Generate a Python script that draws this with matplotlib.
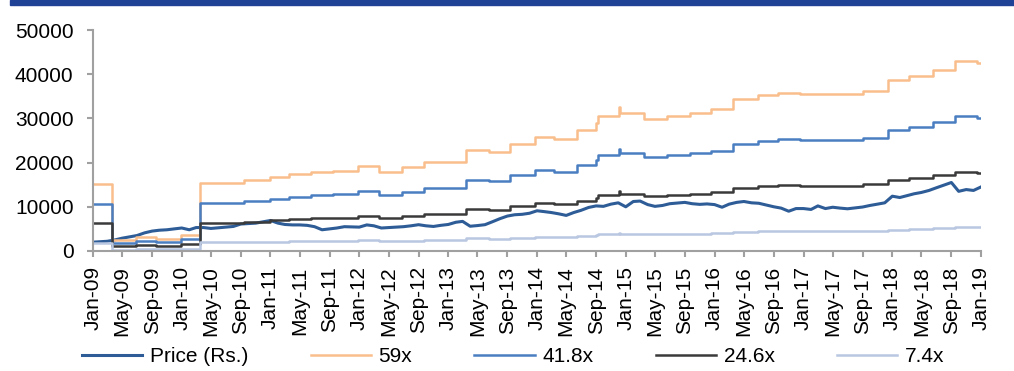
import numpy as np
import pandas as pd
import matplotlib
matplotlib.use("Agg")
import matplotlib.pyplot as plt
import matplotlib.dates as mdates
from matplotlib.patches import Rectangle

plt.rcParams['font.family'] = ['Liberation Sans', 'DejaVu Sans']

# month-end share price (Rs.), Jan-09 .. Jan-19
price = [2000, 2100, 2200, 2500, 2900, 3200, 3500, 4100, 4500, 4700, 4800, 5000,
         5200, 4800, 5300, 5300, 5100, 5250, 5400, 5550, 6100, 6200, 6300, 6600,
         6900, 6300, 6000, 5900, 5900, 5800, 5500, 4800, 5000, 5200, 5500, 5450,
         5400, 5900, 5700, 5200, 5300, 5400, 5500, 5700, 5950, 5700, 5550, 5800,
         6000, 6500, 6700, 5600, 5750, 5950, 6600, 7300, 7900, 8200, 8300, 8540,
         9100, 8900, 8700, 8400, 8050, 8700, 9200, 9850, 10200, 10100, 10600, 10900,
         10000, 11200, 11300, 10500, 10100, 10300, 10700, 10850, 11000, 10700, 10550, 10650,
         10500, 9900, 10600, 11000, 11200, 10900, 10800, 10400, 10000, 9700, 9000, 9600,
         9600, 9400, 10200, 9600, 9900, 9700, 9550, 9750, 9950, 10300, 10600, 10900,
         12400, 12100, 12500, 12950, 13250, 13700, 14300, 14900, 15500, 13500, 13900, 13700,
         14500]
price_dates = pd.date_range("2009-01-01", periods=len(price), freq="MS")

# trailing EPS (Rs.) and the dates it changed
eps_dates = ["2009-01-01", "2009-03-22", "2009-06-25", "2009-09-16", "2009-12-28",
             "2010-03-18", "2010-09-12", "2010-12-28", "2011-03-19", "2011-06-18",
             "2011-09-13", "2011-12-25", "2012-03-24", "2012-06-24", "2012-09-22",
             "2013-03-16", "2013-06-19", "2013-09-12", "2013-12-22", "2014-03-13",
             "2014-06-16", "2014-09-01", "2014-09-07", "2014-12-05", "2014-12-10",
             "2015-03-18", "2015-06-18", "2015-09-21", "2015-12-19", "2016-03-15",
             "2016-06-27", "2016-09-18", "2016-12-16", "2017-09-03", "2017-12-13",
             "2018-03-12", "2018-06-16", "2018-09-15", "2018-12-15"]
eps = [257.0, 43.0, 53.0, 46.9, 62.2,
       261.9, 271.2, 283.1, 294.9, 301.2,
       307.6, 324.1, 303.4, 320.3, 342.0,
       386.6, 381.4, 411.9, 437.3, 428.6,
       464.2, 491.5, 517.6, 552.0, 528.0,
       507.3, 517.6, 528.0, 543.2, 581.4,
       597.8, 605.4, 600.3, 613.6, 655.1,
       670.3, 695.9, 730.3, 721.2]

multiples = [59, 41.8, 24.6, 7.4]
band_labels = ["59x", "41.8x", "24.6x", "7.4x"]
band_colors = ["#F9BE8C", "#4A7EC1", "#3A3A3A", "#B9C7E1"]

end = pd.Timestamp("2019-01-01")
step_x = pd.to_datetime(eps_dates + ["2019-01-01"])
step_eps = np.array(eps + [eps[-1]])

fig = plt.figure(figsize=(10.14, 3.71), dpi=100)
ax = fig.add_axes([0.0917, 0.3235, 0.8758, 0.5955])

ax.plot(price_dates, price, color="#2E5C97", lw=2.2, label="Price (Rs.)")
for m, lab, col in zip(multiples, band_labels, band_colors):
    ax.plot(step_x, step_eps * m, color=col, lw=1.8, drawstyle="steps-post", label=lab)

ax.set_xlim(pd.Timestamp("2009-01-01"), end)
ax.set_ylim(0, 50000)
ax.set_yticks(range(0, 50001, 10000))
ax.xaxis.set_major_locator(mdates.MonthLocator(bymonth=[1, 5, 9]))
ax.xaxis.set_major_formatter(mdates.DateFormatter("%b-%y"))
ax.tick_params(axis="x", rotation=90, labelsize=15, length=4, color="#A0A0A0", width=1.5, pad=7)
ax.tick_params(axis="y", labelsize=15, length=4, color="#A0A0A0", width=1.5, pad=10)

for s in ["top", "right"]:
    ax.spines[s].set_visible(False)
for s in ["left", "bottom"]:
    ax.spines[s].set_color("#A0A0A0")
    ax.spines[s].set_linewidth(1.5)

fig.legend(loc="center", bbox_to_anchor=(0.506, 0.038), ncol=5, frameon=False,
           fontsize=15, handlelength=2.9, handletextpad=0.35, columnspacing=3.0)

# dark blue band along the top edge
fig.patches.append(Rectangle((10 / 1014, 1 - 5 / 371), 1, 5 / 371,
                             transform=fig.transFigure, color="#1F4196", zorder=5))

fig.savefig("out.png", dpi=100)
